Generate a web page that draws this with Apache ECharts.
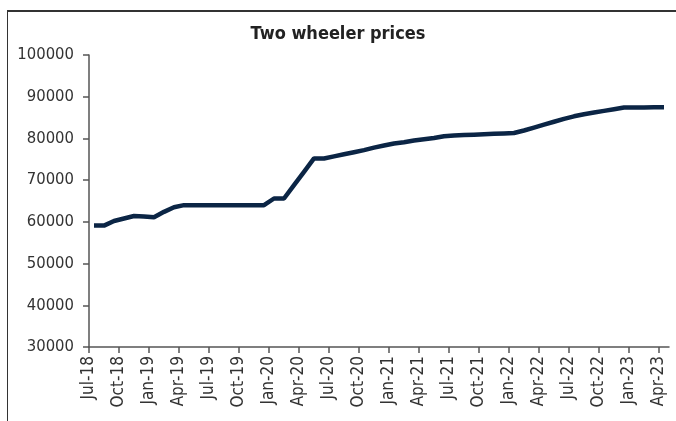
<!DOCTYPE html>
<html>
<head>
<meta charset="utf-8">
<script src="https://cdn.jsdelivr.net/npm/echarts@6/dist/echarts.min.js"></script>
<style>
  html, body { margin: 0; padding: 0; background: #fff; }
  #frame {
    position: absolute; left: 7px; top: 10px; width: 700px; height: 430px;
    border-left: 1px solid #333; border-top: 2px solid #333;
  }
  #main { position: absolute; left: 0; top: 0; width: 676px; height: 421px; }
</style>
</head>
<body>
<div id="frame"></div>
<div id="main"></div>
<script>
// monthly, Jul-18 .. Apr-23
const months = [
  'Jul-18','Aug-18','Sep-18','Oct-18','Nov-18','Dec-18',
  'Jan-19','Feb-19','Mar-19','Apr-19','May-19','Jun-19',
  'Jul-19','Aug-19','Sep-19','Oct-19','Nov-19','Dec-19',
  'Jan-20','Feb-20','Mar-20','Apr-20','May-20','Jun-20',
  'Jul-20','Aug-20','Sep-20','Oct-20','Nov-20','Dec-20',
  'Jan-21','Feb-21','Mar-21','Apr-21','May-21','Jun-21',
  'Jul-21','Aug-21','Sep-21','Oct-21','Nov-21','Dec-21',
  'Jan-22','Feb-22','Mar-22','Apr-22','May-22','Jun-22',
  'Jul-22','Aug-22','Sep-22','Oct-22','Nov-22','Dec-22',
  'Jan-23','Feb-23','Mar-23','Apr-23'
];
const prices = [
  59100, 59100, 60200, 60800, 61400, 61300,
  61100, 62400, 63500, 64000, 64000, 64000,
  64000, 64000, 64000, 64000, 64000, 64000,
  65600, 65600, 68800, 72000, 75200, 75200,
  75700, 76200, 76700, 77200, 77800, 78300,
  78800, 79100, 79500, 79800, 80100, 80500,
  80700, 80800, 80900, 81000, 81100, 81200,
  81300, 81900, 82600, 83300, 84000, 84700,
  85300, 85800, 86200, 86600, 87000, 87400,
  87400, 87400, 87500, 87500
];
const yTicks = [30000, 40000, 50000, 60000, 70000, 80000, 90000, 100000];

const labelIdx = [];
for (let i = 0; i < months.length; i += 3) labelIdx.push(i);

const chart = echarts.init(document.getElementById('main'));
const axisColor = '#555';
const textColor = '#333';
const font = '"DejaVu Sans Condensed", "Liberation Sans Narrow", sans-serif';

chart.setOption({
  animation: false,
  title: {
    text: 'Two wheeler prices',
    left: 'center',
    top: 20,
    textStyle: { fontFamily: font, fontSize: 18, fontWeight: 'bold', color: '#222' }
  },
  grid: { left: 89, right: 7, top: 55, bottom: 74 },
  xAxis: {
    type: 'value',
    min: 0,
    max: months.length,
    axisLine: { lineStyle: { color: axisColor, width: 1.5 } },
    axisTick: { show: true, length: 6, customValues: labelIdx, lineStyle: { color: axisColor, width: 1.5 } },
    splitLine: { show: false },
    axisLabel: {
      customValues: labelIdx,
      rotate: 90,
      margin: 9,
      fontFamily: font,
      fontSize: 17,
      color: textColor,
      formatter: function (v) { return months[Math.round(v)] || ''; }
    }
  },
  yAxis: {
    type: 'value',
    min: yTicks[0],
    max: yTicks[yTicks.length - 1],
    interval: 10000,
    axisLine: { show: true, lineStyle: { color: axisColor, width: 1.5 } },
    axisTick: { show: true, length: 6, lineStyle: { color: axisColor, width: 1.5 } },
    splitLine: { show: false },
    axisLabel: {
      margin: 15, fontFamily: font, fontSize: 16.5, color: textColor,
      formatter: function (v) { return String(v); }
    }
  },
  series: [{
    type: 'line',
    data: prices.map((v, i) => [i + 0.5, v]),
    showSymbol: false,
    lineStyle: { color: '#0b2545', width: 4.5 }
  }]
});
</script>
</body>
</html>
